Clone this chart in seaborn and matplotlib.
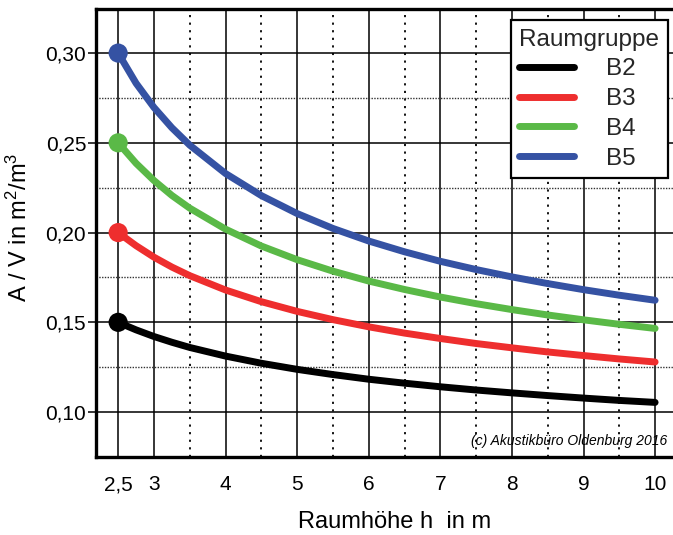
import matplotlib
matplotlib.use("Agg")
import matplotlib.pyplot as plt
import pandas as pd
import seaborn as sns

# Raumhöhe h in m
hoehe = [2.5, 2.75, 3, 3.25, 3.5, 4, 4.5, 5, 5.5, 6, 6.5, 7, 7.5, 8, 8.5, 9, 9.5, 10]
# A/V in m²/m³
b2 = [0.1500, 0.1458, 0.1421, 0.1389, 0.1360, 0.1312, 0.1272, 0.1238, 0.1209,
      0.1183, 0.1161, 0.1141, 0.1123, 0.1107, 0.1092, 0.1078, 0.1065, 0.1054]
b3 = [0.2000, 0.1927, 0.1863, 0.1808, 0.1760, 0.1680, 0.1615, 0.1561, 0.1515,
      0.1475, 0.1440, 0.1410, 0.1382, 0.1358, 0.1335, 0.1315, 0.1296, 0.1279]
b4 = [0.2500, 0.2386, 0.2290, 0.2207, 0.2136, 0.2019, 0.1925, 0.1849, 0.1785,
      0.1730, 0.1683, 0.1641, 0.1604, 0.1571, 0.1541, 0.1514, 0.1489, 0.1466]
b5 = [0.3000, 0.2832, 0.2697, 0.2584, 0.2487, 0.2329, 0.2206, 0.2106, 0.2023,
      0.1953, 0.1893, 0.1840, 0.1794, 0.1753, 0.1716, 0.1682, 0.1651, 0.1623]

gruppen = ["B2", "B3", "B4", "B5"]
farben = ["#000000", "#ee2e2e", "#5ab947", "#3552a3"]

x_ticks = [2.5, 3, 4, 5, 6, 7, 8, 9, 10]
x_labels = ["2,5", "3", "4", "5", "6", "7", "8", "9", "10"]
y_ticks = [0.10, 0.15, 0.20, 0.25, 0.30]
y_labels = ["0,10", "0,15", "0,20", "0,25", "0,30"]

df = pd.DataFrame({
    "h": hoehe * 4,
    "av": b2 + b3 + b4 + b5,
    "gruppe": [g for g in gruppen for _ in hoehe],
})
start = df[df["h"] == hoehe[0]]

sns.set_theme(style="white")
plt.rcParams["font.family"] = ["Liberation Sans", "DejaVu Sans"]
plt.rcParams["mathtext.fontset"] = "custom"
plt.rcParams["mathtext.rm"] = "Liberation Sans"
plt.rcParams["mathtext.it"] = "Liberation Sans:italic"

fig = plt.figure(figsize=(6.73, 5.35), dpi=100)
ax = fig.add_axes([0.1426, 0.1452, 0.8574, 0.8378])

pal = dict(zip(gruppen, farben))
sns.lineplot(data=df, x="h", y="av", hue="gruppe", palette=pal, ax=ax,
             linewidth=5, solid_capstyle="round", solid_joinstyle="round", zorder=4)
sns.scatterplot(data=start, x="h", y="av", hue="gruppe", palette=pal, ax=ax,
                s=190, linewidth=0, legend=False, zorder=5, clip_on=False)

ax.set_xlim(2.19, 10.25)
ax.set_ylim(0.0748, 0.3245)

ax.set_xticks(x_ticks)
ax.set_xticklabels(x_labels)
ax.set_xticks([3.5, 4.5, 5.5, 6.5, 7.5, 8.5, 9.5], minor=True)
ax.set_yticks(y_ticks)
ax.set_yticklabels(y_labels)
ax.set_yticks([0.125, 0.175, 0.225, 0.275], minor=True)

ax.grid(which="major", color="black", linewidth=1.1, linestyle="-")
ax.grid(which="minor", axis="x", color="black", linewidth=1.3, linestyle=(0, (1.2, 3)))
ax.grid(which="minor", axis="y", color="#333333", linewidth=1.0, linestyle=(0, (1, 1)))
ax.set_axisbelow(True)

ax.tick_params(axis="x", which="both", length=0, pad=13, labelsize=15, colors="black")
ax.tick_params(axis="y", which="major", length=6, width=1.1, pad=1, labelsize=15,
               left=True, colors="black")
ax.tick_params(axis="y", which="minor", length=0)

for side in ["left", "bottom", "top"]:
    ax.spines[side].set_color("black")
    ax.spines[side].set_linewidth(2.4)
ax.spines["right"].set_visible(False)

ax.set_xlabel("Raumhöhe h  in m", fontsize=17, color="black")
ax.set_ylabel("A / V in m$^2$/m$^3$", fontsize=17, color="black")
ax.xaxis.set_label_coords(0.517, -0.12)
ax.yaxis.set_label_coords(-0.111, 0.514)

leg = ax.legend(title="Raumgruppe", loc="upper right", bbox_to_anchor=(0.9908, 0.9755),
                borderaxespad=0, fontsize=17.5, title_fontsize=17.5, frameon=True,
                fancybox=False, edgecolor="black", framealpha=1,
                handlelength=2.27, handletextpad=1.3, labelspacing=0.32,
                borderpad=0.35, alignment="left")
leg.get_frame().set_linewidth(1.6)
for line in leg.get_lines():
    line.set_linewidth(5)
    line.set_solid_capstyle("round")
leg.set_zorder(6)

ax.text(0.99, 0.037, "(c) Akustikbüro Oldenburg 2016", transform=ax.transAxes,
        ha="right", va="center", fontsize=10, style="italic", color="black", zorder=6)

fig.savefig("out.png", dpi=100)
